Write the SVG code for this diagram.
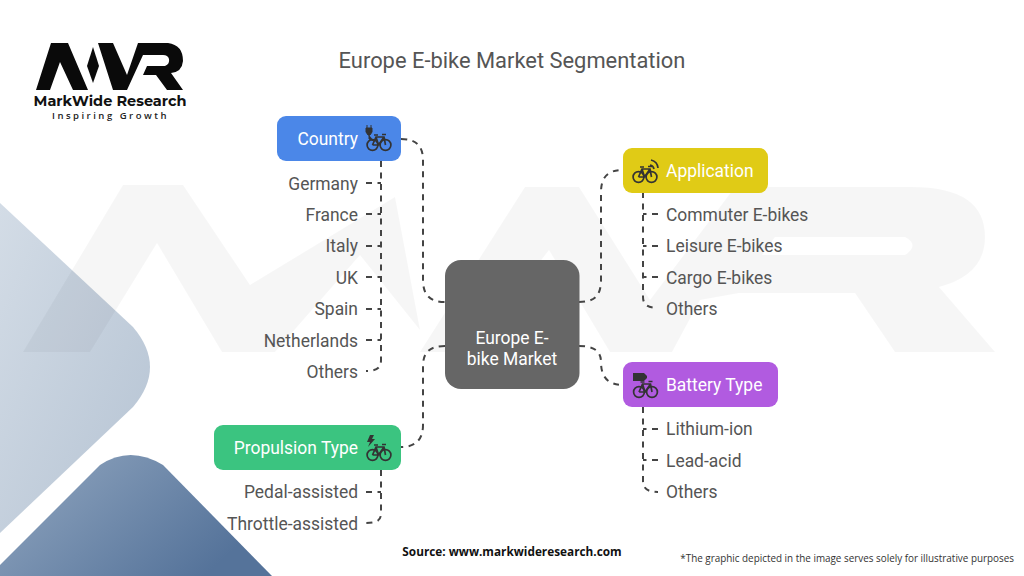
<svg xmlns="http://www.w3.org/2000/svg" width="1024" height="576" viewBox="0 0 1024 576">
<style>
text{font-family:Roboto,"Liberation Sans",sans-serif}
.l{font-size:17.450px;fill:#555}
.e{text-anchor:end}
.h{font-size:17.450px;fill:#fff}
.c{fill:none;stroke:#444;stroke-width:2;stroke-dasharray:6 5.500}
.b{fill:none;stroke:#333;stroke-width:1.700}
.wm{fill:#000;fill-opacity:.036}
</style>
<defs>
<linearGradient id="g1" x1="0" y1="0" x2="1" y2="1"><stop offset="0" stop-color="#d3dce6"/><stop offset="1" stop-color="#b5c3d3"/></linearGradient>
<linearGradient id="g2" x1="0" y1="0" x2="1" y2="0.5"><stop offset="0" stop-color="#92a7c0"/><stop offset="1" stop-color="#55739a"/></linearGradient>
<g id="bike"><circle cx="-6.500" cy="6" r="5.400" class="b"/><circle cx="6.500" cy="6" r="5.400" class="b"/><path class="b" d="M-6.500 6L-3-2H5L6.500 6M-3-2L-.5 6H-6.500M-.5 6L5-2M3-4.500H7M-5-4H-1"/></g>
</defs>
<rect width="1024" height="576" fill="#fff"/>
<path id="shape1" fill="url(#g1)" d="M0 203L133 327Q167 367 133 407L0 533Z"/>
<path id="shape2" fill="url(#g2)" d="M0 565L100 465Q130 445 163 465L272 576H0Z"/>
<g id="watermark">
<path class="wm" d="M23 352H90L157 243L222 352H275L360 255L420 330L395 197L250 285L183 185H123Z"/>
<path class="wm" fill-rule="evenodd" d="M420 352H470L549 250L610 352H672L700 300L739 293H855L895 352H995L939 287Q985 275 985 237Q985 187 912 187H735L650 300L579 187H525ZM775 237H905Q920 245 905 255H762Z"/>
</g>
<g id="logo">
<path fill="#0a0a0a" d="M36 90L51 43H68L88 90H73L60 62L50 90Z"/>
<path fill="#0a0a0a" d="M93 47L99 66L93 83L87 66Z"/>
<path fill="#0a0a0a" d="M98 43H113L127 75L138 43H168Q183 45 183 61Q182 72 171 73L183 90H167L156 75H143L147 66H165Q170 64 169 59Q168 55 163 55H143L127 90H113Z"/>
<text x="110" y="106" text-anchor="middle" style="font-family:Montserrat,'Open Sans',sans-serif" font-size="14.500" font-weight="700" fill="#111">MarkWide Research</text>
<text x="110.500" y="118.500" text-anchor="middle" style="font-family:'Open Sans',sans-serif" font-size="9.500" font-weight="600" letter-spacing="2.500" fill="#222">Inspiring Growth</text>
</g>
<text id="title" x="512" y="68" text-anchor="middle" font-size="21.900" fill="#555">Europe E-bike Market Segmentation</text>
<g id="connectors">
<path class="c" d="M401 139C415 139 423 145 423 160V280C423 295 430 302 445 302"/>
<path class="c" d="M445 346C430 346 423 352 423 366V425C423 440 415 447 401 447"/>
<path class="c" d="M579 302C595 302 601 295 601 280V192C601 177 608 170 623 170"/>
<path class="c" d="M579 346C595 346 601 352 601 362C601 377 608 385 623 385"/>
<path class="c" d="M381 161V360C381 367 378 371 366 371M366 183H381M366 214H381M366 246H381M366 277H381M366 309H381M366 340H381"/>
<path class="c" d="M381 470V513C381 520 378 523 366 523M366 492H381"/>
<path class="c" d="M643 192V297C643 304 647 308 658 308M658 214H643M658 246H643M658 277H643"/>
<path class="c" d="M643 407V481C643 488 647 492 658 492M658 429H643M658 460H643"/>
</g>
<g id="center"><rect x="445" y="260" width="134.500" height="129" rx="16" fill="#666"/>
<text x="512" y="344" text-anchor="middle" class="h">Europe E-</text><text x="512" y="365" text-anchor="middle" class="h">bike Market</text></g>
<g id="country"><rect x="277" y="116" width="124" height="45" rx="9" fill="#4b87e8"/><text x="358" y="145" class="h e">Country</text><use href="#bike" x="379" y="139"/><path d="M366 128h6v4l-2 3h-2l-2-3zM367 125v3M371 125v3M369 135v4l5 2" fill="#333" stroke="#333"/></g>
<g id="application"><rect x="623" y="148" width="145" height="45" rx="9" fill="#e0cb16"/><text x="666" y="176.500" class="h">Application</text><use href="#bike" x="645" y="171"/><path class="b" d="M650 165a5 5 0 0 1 4 4M651 160a9 9 0 0 1 7 8"/></g>
<g id="battery"><rect x="623" y="362" width="155" height="45" rx="9" fill="#b15be0"/><text x="666" y="391" class="h">Battery Type</text><use href="#bike" x="645.500" y="386"/><path d="M633 373h11l3 3v2l-3 3h-11z" fill="#333"/></g>
<g id="propulsion"><rect x="214" y="425" width="187" height="45" rx="9" fill="#3bc480"/><text x="358" y="454" class="h e">Propulsion Type</text><use href="#bike" x="379" y="449"/><path d="M370 435l-3 7h3l-2 5 7-8h-3l2-4z" fill="#333"/></g>
<g id="items">
<text x="358" y="189.500" class="l e">Germany</text><text x="358" y="220.500" class="l e">France</text><text x="358" y="252" class="l e">Italy</text><text x="358" y="283.500" class="l e">UK</text><text x="358" y="315" class="l e">Spain</text><text x="358" y="346.500" class="l e">Netherlands</text><text x="358" y="377.500" class="l e">Others</text>
<text x="358" y="498" class="l e">Pedal-assisted</text><text x="358" y="529.500" class="l e">Throttle-assisted</text>
<text x="666" y="220.500" class="l">Commuter E-bikes</text><text x="666" y="252" class="l">Leisure E-bikes</text><text x="666" y="283.500" class="l">Cargo E-bikes</text><text x="666" y="315" class="l">Others</text>
<text x="666" y="435" class="l">Lithium-ion</text><text x="666" y="467" class="l">Lead-acid</text><text x="666" y="498" class="l">Others</text>
</g>
<text id="source" x="512" y="556" text-anchor="middle" font-size="11.800" font-weight="700" fill="#111" style="font-family:'Open Sans',sans-serif">Source: www.markwideresearch.com</text>
<text id="note" x="1014" y="562" text-anchor="end" font-size="9.900" fill="#333" style="font-family:'Open Sans',sans-serif">*The graphic depicted in the image serves solely for illustrative purposes</text>
</svg>
